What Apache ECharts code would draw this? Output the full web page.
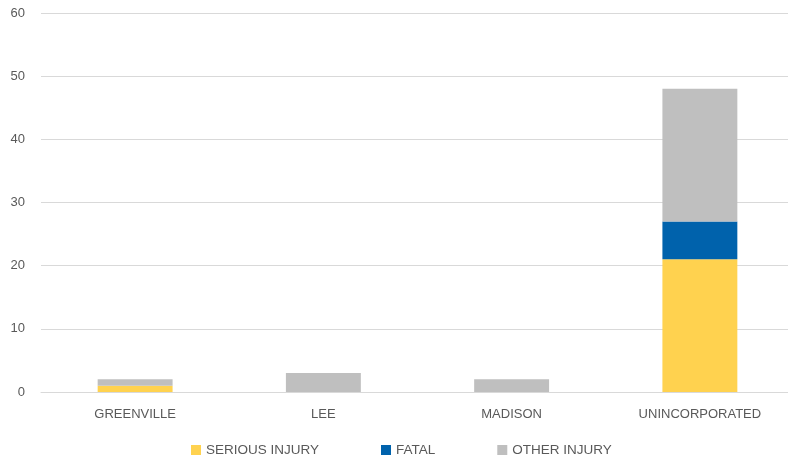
<!DOCTYPE html>
<html><head><meta charset="utf-8">
<script src="https://cdn.jsdelivr.net/npm/echarts@6/dist/echarts.min.js"></script>
<style>html,body{margin:0;padding:0;background:#fff}#c{width:788px;height:460px}</style>
</head><body><div id="c"></div>
<script>
const categories = ['GREENVILLE', 'LEE', 'MADISON', 'UNINCORPORATED'];
const seriousInjury = [1, 0, 0, 21];
const fatal = [0, 0, 0, 6];
const otherInjury = [1, 3, 2, 21];
const seriesNames = ['SERIOUS INJURY', 'FATAL', 'OTHER INJURY'];
const yTicks = { min: 0, max: 60, interval: 10 };

const font = 'Liberation Sans, Arial, sans-serif';
const chart = echarts.init(document.getElementById('c'));
const mk = (name, data, color) => ({
  name, type: 'bar', stack: 'total', data, barWidth: '39.8%',
  itemStyle: { color }, emphasis: { disabled: true }
});
chart.setOption({
  animation: false,
  grid: { left: 41, right: -6, top: 13, bottom: 68, outerBoundsMode: 'none', containLabel: false },
  legend: {
    bottom: 3, left: 191, padding: 0, itemWidth: 10, itemHeight: 10, itemGap: 62,
    icon: 'rect',
    textStyle: { color: '#595959', fontSize: 13.5, fontFamily: font },
    data: seriesNames
  },
  xAxis: {
    type: 'category', data: categories,
    axisLine: { lineStyle: { color: '#d9d9d9', width: 1 } },
    axisTick: { show: false },
    axisLabel: { color: '#595959', fontSize: 13, fontFamily: font, margin: 16 }
  },
  yAxis: {
    type: 'value', min: yTicks.min, max: yTicks.max, interval: yTicks.interval,
    axisLine: { show: false }, axisTick: { show: false },
    splitLine: { lineStyle: { color: '#d9d9d9', width: 1 } },
    axisLabel: { color: '#595959', fontSize: 13, fontFamily: font, margin: 16 }
  },
  series: [
    mk(seriesNames[0], seriousInjury, '#FFD24F'),
    mk(seriesNames[1], fatal, '#0062AC'),
    mk(seriesNames[2], otherInjury, '#BFBFBF')
  ]
});
</script></body></html>
